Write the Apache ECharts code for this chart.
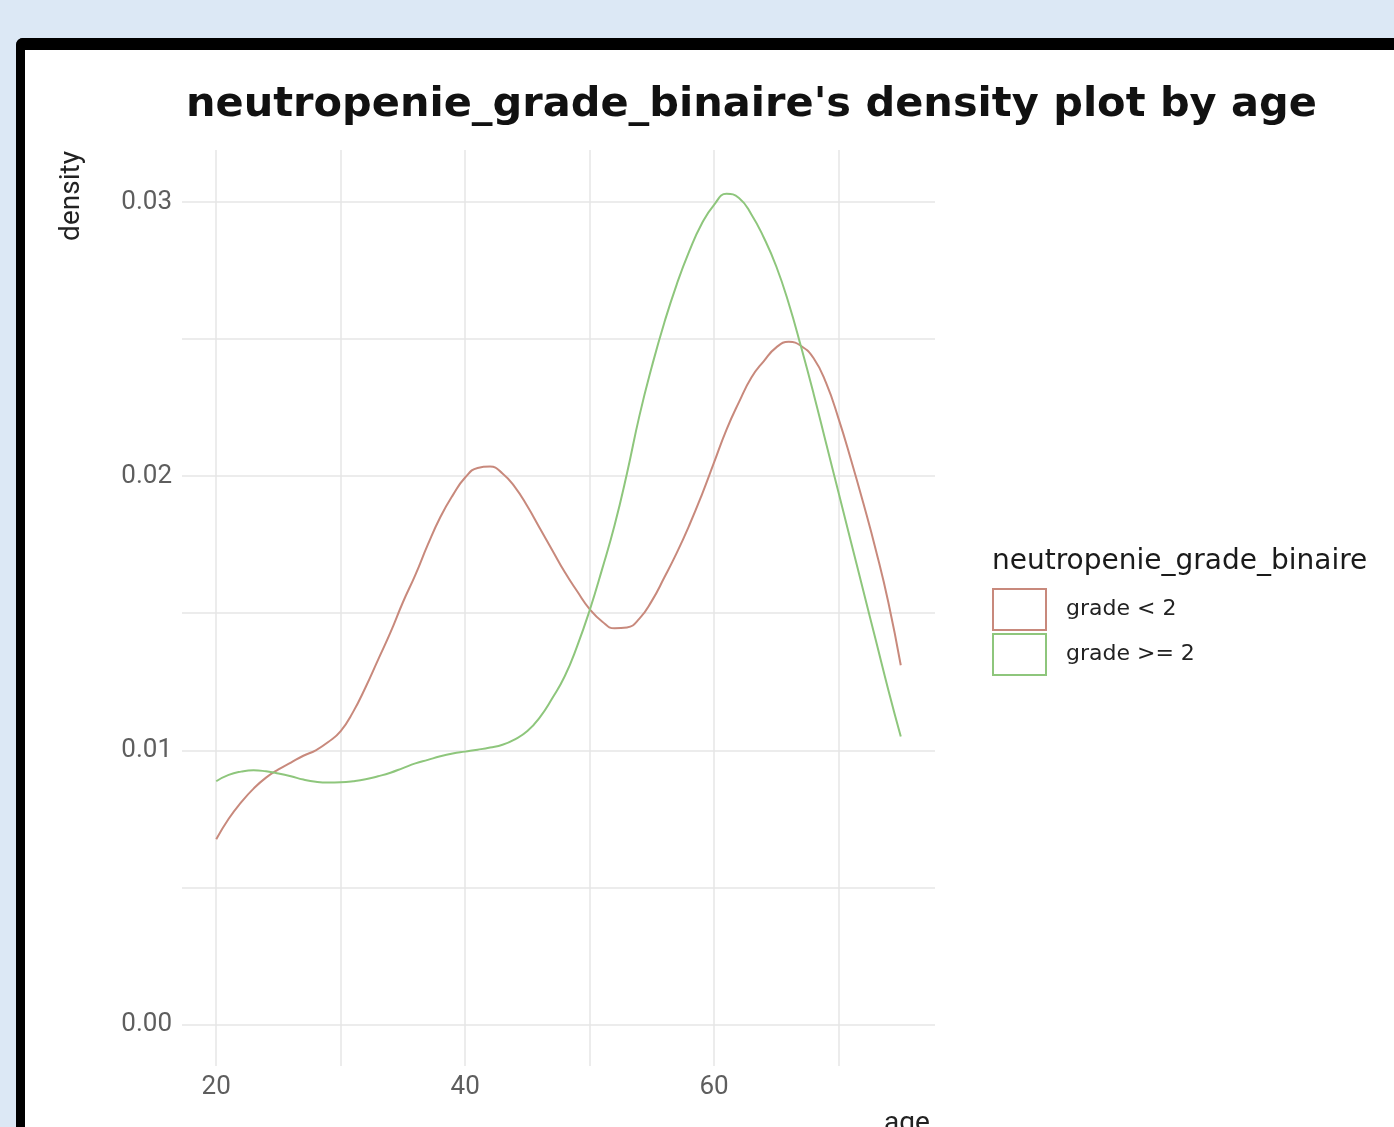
<!DOCTYPE html>
<html>
<head>
<meta charset="utf-8">
<script src="https://cdn.jsdelivr.net/npm/echarts@6/dist/echarts.min.js"></script>
<style>
  html, body { margin: 0; padding: 0; width: 1394px; height: 1127px; overflow: hidden; background: #dce8f5; }
  #frame { position: absolute; left: 16px; top: 38px; width: 1400px; height: 1120px;
           border-top: 12px solid #000; border-left: 9px solid #000; border-top-left-radius: 7px; background: #fff; }
  #chart { position: absolute; left: 0; top: 0; width: 1394px; height: 1127px; }
</style>
</head>
<body>
<div id="frame"></div>
<div id="chart"></div>
<script>
const ages = [20,21,22,23,24,25,26,27,28,29,30,31,32,33,34,35,36,37,38,39,40,41,42,43,44,45,46,47,48,49,50,51,52,53,54,55,56,57,58,59,60,61,62,63,64,65,66,67,68,69,70,71,72,73,74,75];
const gradeLow = [0.00675,0.0075,0.0081,0.0086,0.0090,0.0093,0.00955,0.0098,0.0100,0.0103,0.0107,0.0114,0.0123,0.0133,0.0143,0.0154,0.0164,0.0175,0.0185,0.0193,0.01995,0.0203,0.02035,0.0201,0.0196,0.0189,0.0181,0.0173,0.0165,0.0158,0.01515,0.0147,0.01445,0.01448,0.0148,0.01545,0.0163,0.0172,0.0182,0.0193,0.0205,0.0217,0.0227,0.0236,0.0242,0.0247,0.0249,0.02475,0.0243,0.0234,0.0221,0.0206,0.0190,0.0173,0.0154,0.0131];
const gradeHigh = [0.00887,0.0091,0.00922,0.00927,0.00923,0.00915,0.00905,0.00893,0.00885,0.00882,0.00883,0.00887,0.00894,0.00905,0.00918,0.00935,0.00952,0.00965,0.00978,0.00988,0.00995,0.01002,0.0101,0.0102,0.0104,0.0107,0.0112,0.0119,0.0127,0.0138,0.0151,0.0166,0.0182,0.0201,0.0222,0.0240,0.0256,0.0270,0.0282,0.0292,0.0299,0.0303,0.03015,0.02955,0.0287,0.02765,0.0263,0.0247,0.0230,0.0212,0.0194,0.0176,0.0158,0.0140,0.0122,0.0105];
const seriesNames = ['grade < 2', 'grade >= 2'];
const xTickValues = [20,30,40,50,60,70];
const xLabelValues = [20,40,60];
const yTickValues = [0,0.005,0.01,0.015,0.02,0.025,0.03];
const yLabelValues = [0,0.01,0.02,0.03];

const colors = ['#c8897c', '#8ec67c'];
const chart = echarts.init(document.getElementById('chart'), null, { renderer: 'canvas' });
const toPairs = vals => ages.map((a, i) => [a, vals[i]]);

chart.setOption({
  backgroundColor: 'transparent',
  animation: false,
  title: [
    { text: "neutropenie_grade_binaire's density plot by age", left: 181, top: 79,
      textStyle: { fontFamily: 'DejaVu Sans', fontWeight: 'bold', fontSize: 41.5, color: '#111' } },
    { text: 'neutropenie_grade_binaire', left: 987, top: 543,
      textStyle: { fontFamily: 'DejaVu Sans', fontWeight: 'normal', fontSize: 28, color: '#1a1a1a' } }
  ],
  graphic: [
    { type: 'text', x: 72, y: 196, rotation: Math.PI / 2,
      style: { text: 'density', font: '28px Roboto', fill: '#222', textAlign: 'center', textVerticalAlign: 'middle' } }
  ],
  legend: {
    orient: 'vertical', left: 992, top: 588, padding: 0, itemWidth: 53, itemHeight: 41, itemGap: 2,
    icon: 'rect',
    textStyle: { fontFamily: 'DejaVu Sans', fontSize: 22, color: '#222', padding: [0, 0, 0, 15] },
    data: seriesNames.map((n, i) => ({ name: n, itemStyle: { color: '#fff', borderColor: colors[i], borderWidth: 2 } }))
  },
  grid: { left: 182, right: 459, top: 150, bottom: 61, containLabel: false, outerBoundsMode: 'none' },
  xAxis: {
    type: 'value', min: 17.25, max: 77.75,
    name: 'age', nameLocation: 'end', nameGap: -28,
    nameTextStyle: { fontFamily: 'Roboto', fontSize: 28, color: '#222', align: 'center', verticalAlign: 'top', padding: [86, 0, 0, 0] },
    axisLine: { show: false },
    axisTick: { show: false, customValues: xTickValues },
    axisLabel: { customValues: xLabelValues, fontFamily: 'Roboto', fontSize: 26, color: '#5e5e5e', margin: 8 },
    splitLine: { show: true, lineStyle: { color: '#e6e6e6', width: 1.5 } }
  },
  yAxis: {
    type: 'value', min: -0.00152, max: 0.0319,
    axisLine: { show: false },
    axisTick: { show: false, customValues: yTickValues },
    axisLabel: { customValues: yLabelValues, fontFamily: 'Roboto', fontSize: 26, color: '#5e5e5e', margin: 10,
      formatter: v => v.toFixed(2) },
    splitLine: { show: true, lineStyle: { color: '#e6e6e6', width: 1.5 } }
  },
  series: [
    { name: seriesNames[0], type: 'line', data: toPairs(gradeLow), smooth: 0.5, showSymbol: false,
      lineStyle: { color: colors[0], width: 2 }, itemStyle: { color: colors[0] } },
    { name: seriesNames[1], type: 'line', data: toPairs(gradeHigh), smooth: 0.5, showSymbol: false,
      lineStyle: { color: colors[1], width: 2 }, itemStyle: { color: colors[1] } }
  ]
});
</script>
</body>
</html>
